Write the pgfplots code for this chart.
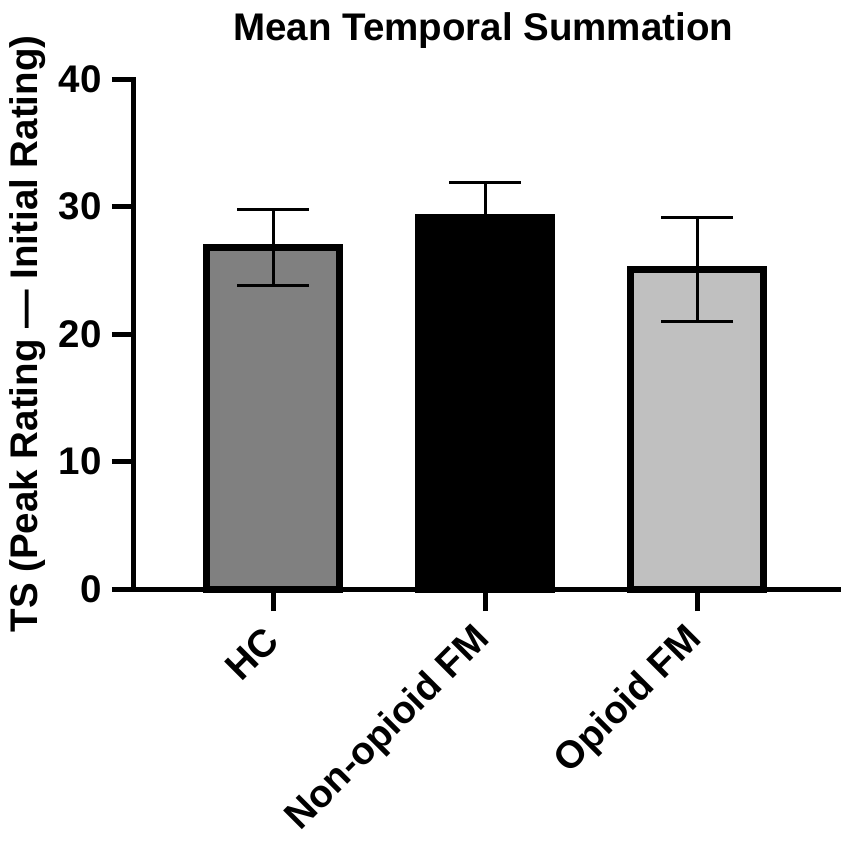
\documentclass[border=0pt]{standalone}
\usepackage{pgfplots}
\pgfplotsset{compat=1.18}
\usepackage{fontspec}
\setmainfont{Liberation Sans}
\definecolor{hcgray}{HTML}{808080}
\definecolor{opgray}{HTML}{C0C0C0}
\begin{document}
\begin{tikzpicture}[x=1pt,y=1pt]
\useasboundingbox (-134,-255) rectangle (717,589);
\begin{axis}[
  at={(0,0)}, anchor=south west,
  scale only axis, width=704pt, height=510pt,
  xmin=-0.656, xmax=2.665, ymin=0, ymax=40,
  axis lines=left,
  axis line style={-, line width=5pt, line cap=rect},
  every tick/.style={black, line width=5pt},
  tick align=outside,
  major tick length=22pt,
  xtick={0,1,2},
  xticklabels={HC, Non-opioid FM, Opioid FM},
  ytick={0,10,20,30,40},
  font=\fontsize{38.5}{46}\selectfont\bfseries,
  /pgf/number format/assume math mode=true,
  xticklabel style={anchor=east, inner sep=0pt, xshift=-1pt, yshift=-23pt, rotate=45},
  yticklabel style={anchor=east, xshift=-7pt},
  title={Mean Temporal Summation},
  title style={at={(axis description cs:0.496,1)}, anchor=base, yshift=33pt},
  ylabel={TS (Peak Rating — Initial Rating)},
  ylabel style={at={(axis description cs:-0.1364,0.5)}, anchor=base, rotate=0},
  ybar, bar width=133pt, bar shift=0pt,
  clip=false,
  error bars/y dir=both, error bars/y explicit,
  error bars/error bar style={line width=3pt, black},
  error bars/error mark options={black, line width=3pt, mark size=36pt, rotate=90},
]
\addplot[fill=hcgray, draw=black, line width=7pt] coordinates {(0,26.8) +- (0,3.0)};
\addplot[fill=black, draw=black, line width=7pt] coordinates {(1,29.1) +- (0,2.8)};
\addplot[fill=opgray, draw=black, line width=7pt] coordinates {(2,25.05) +- (0,4.1)};
\end{axis}
\end{tikzpicture}
\end{document}
